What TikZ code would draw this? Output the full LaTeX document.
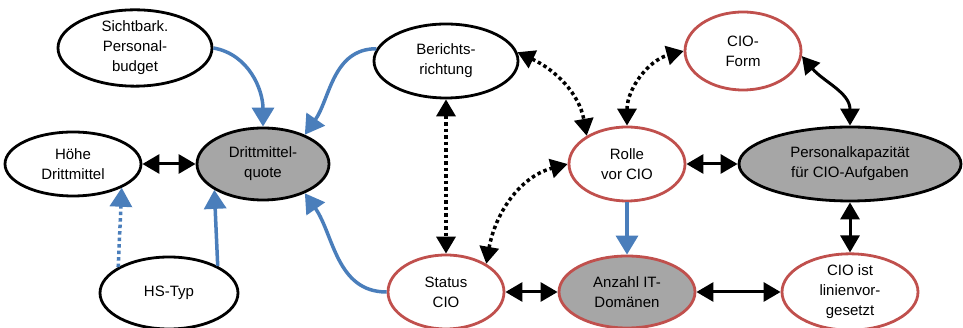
\documentclass[tikz,border=0pt]{standalone}
\usepackage{fontspec}
\setmainfont{Liberation Sans}
\usepackage{tikz}
\usetikzlibrary{shapes.geometric,arrows.meta}
\definecolor{AccBlue}{RGB}{74,126,187}
\definecolor{AccRed}{RGB}{192,80,77}
\definecolor{AccGray}{RGB}{166,166,166}

\begin{document}
\begin{tikzpicture}[x=1pt,y=1pt]
			\useasboundingbox (0,0) rectangle (963,328);
			\tikzstyle{every node}=[draw,ellipse,line width=2.8pt,inner sep=0pt,align=center,font=\fontsize{15}{20}\selectfont]
			\tikzstyle{cio}=[draw=AccRed]
			\tikzset{
				infl/.style={-{Triangle[length=19pt,width=22pt]},draw=AccBlue,line width=3.5pt},
				infldots/.style={infl,dash pattern=on 3.5pt off 3pt},
				link/.style={{Triangle[length=17pt,width=19pt]}-{Triangle[length=17pt,width=19pt]},draw=black,line width=3pt},
				dots/.style={link,line width=3.5pt,dash pattern=on 3.5pt off 3pt}
			}
			
			%% Drittmittel
			\draw (135,280) node [minimum width=154pt,minimum height=66pt] (sp) {Sichtbark.\\Personal-\\budget};
			\draw (73,164) node [minimum width=136pt,minimum height=64pt] (hd) {Höhe\\Drittmittel};
			\draw (263,164) node [fill=AccGray,minimum width=132pt,minimum height=72pt] (dq) {Drittmittel-\\quote};
			\draw (169,35) node [minimum width=138pt,minimum height=72pt] (hs) {HS-Typ};
			
			%% CIO
			\draw (446,267) node [minimum width=144pt,minimum height=74pt] (br) {Berichts-\\richtung};
			\draw (627,164) node [cio,minimum width=116pt,minimum height=74pt] (ro) {Rolle\\vor CIO};
			\draw (446,36) node [cio,minimum width=116pt,minimum height=74pt] (st) {Status\\CIO};
			\draw (627,36) node [cio,fill=AccGray,minimum width=136pt,minimum height=72pt] (an) {Anzahl IT-\\Domänen};
			\draw (743,277) node [cio,minimum width=116pt,minimum height=78pt] (cf) {CIO-\\Form};
			\draw (850,164) node [fill=AccGray,minimum width=222pt,minimum height=74pt] (pk) {Personalkapazität\\für CIO-Aufgaben};
			\draw (850,36) node [cio,minimum width=136pt,minimum height=74pt] (cl) {CIO ist\\linienvor-\\gesetzt};
			
			%% Influences
			\path (sp.east) edge [infl,out=-10,in=90] (dq.north);
			\path (br.170) edge [infl,out=180,in=55] (dq.35);
			\path (st.west) edge [infl,out=180,in=-55] (dq.-35);
			\path (hs.29) edge [infl] (dq.-152);
			\path (hs.153) edge [infldots] (hd.-26);
			\path (ro) edge [infl] (an);
			
			%% Interactions
			\path (hd) edge [link] (dq);
			\path (ro) edge [link] (pk);
			\path (cf.-5) edge [link,out=-50,in=90] (pk.north);
			\path (pk) edge [link] (cl);
			\path (st) edge [link] (an);
			\path (an) edge [link] (cl);
			
			\path (br) edge [dots] (st);
			\path (br.7) edge [dots,out=-25,in=100] (ro.145);
			\path (ro.north) edge [dots,out=90,in=195] (cf.west);
			\path (st.35) edge [dots,out=80,in=195] (ro.west);
			
		\end{tikzpicture}
\end{document}
